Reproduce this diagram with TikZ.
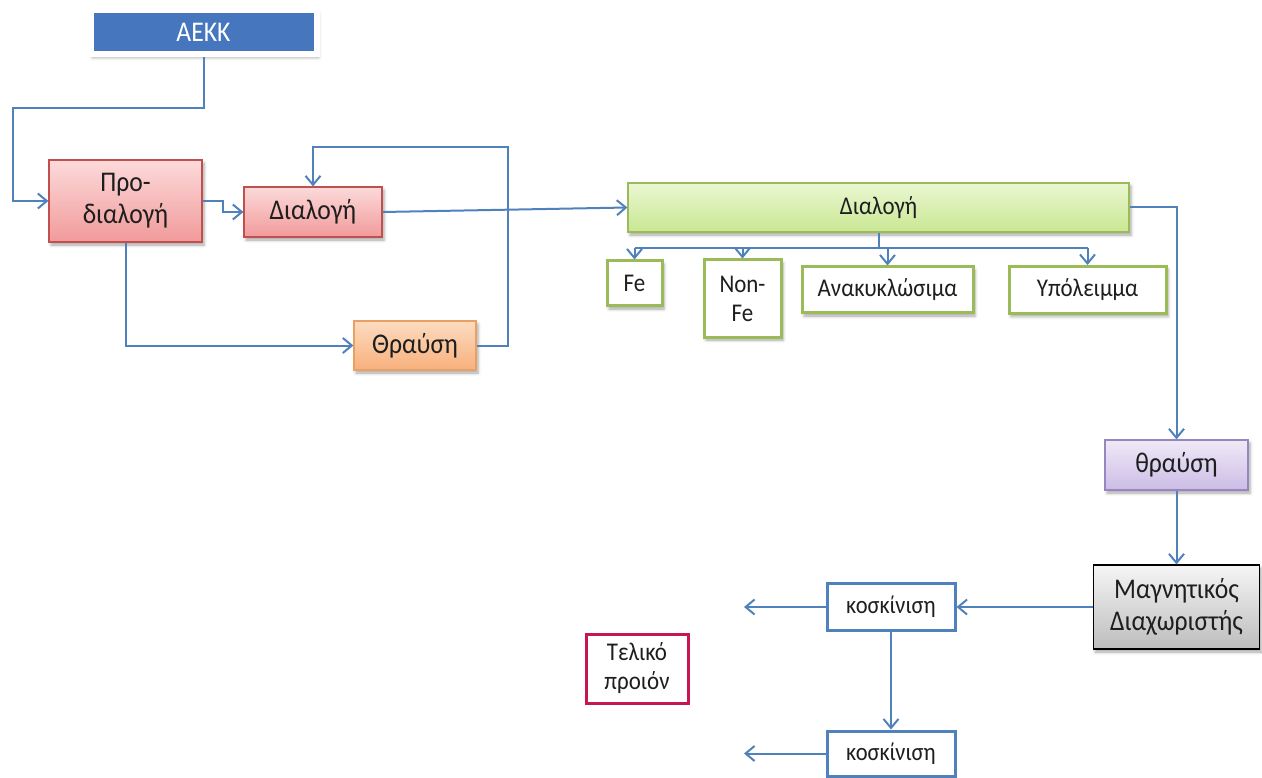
\documentclass[tikz,border=0pt]{standalone}
\usepackage{fontspec}
\setmainfont{Carlito}[FakeStretch=0.9]
\usetikzlibrary{arrows.meta,shadows,shadows.blur}

\definecolor{lnblue}{HTML}{4F81BD}
\definecolor{txt}{HTML}{1E1E1E}
\definecolor{aekkblue}{HTML}{4677BE}
\definecolor{pinkline}{HTML}{C0504D}
\definecolor{pinktop}{HTML}{FCDADA}
\definecolor{pinkbot}{HTML}{F19A9A}
\definecolor{orline}{HTML}{E9A062}
\definecolor{ortop}{HTML}{FCDCC0}
\definecolor{orbot}{HTML}{F8B07C}
\definecolor{grline}{HTML}{9BBB59}
\definecolor{grtop}{HTML}{EAF7D2}
\definecolor{grbot}{HTML}{C9E792}
\definecolor{puline}{HTML}{9A86BE}
\definecolor{putop}{HTML}{EFEAF7}
\definecolor{pubot}{HTML}{CCBCE6}
\definecolor{gytop}{HTML}{F5F5F5}
\definecolor{gybot}{HTML}{BDBDBD}
\definecolor{crimson}{HTML}{C8174F}

\newcommand{\fbig}{\fontsize{28.5}{32}\selectfont}
\newcommand{\fmid}{\fontsize{25.5}{29}\selectfont}
\newcommand{\fsml}{\fontsize{25}{28}\selectfont}

\begin{document}
\begin{tikzpicture}[x=1pt,y=-1pt,
  every node/.style={inner sep=0pt, text=txt, align=center},
  softshadow/.style={blur shadow={shadow xshift=2pt, shadow yshift=-3pt,
      shadow blur radius=3pt, shadow opacity=35}},
  headbox/.style={rectangle, fill=aekkblue, draw=white, line width=6pt,
      softshadow, text=white, font=\fbig},
  pinkbox/.style={rectangle, draw=pinkline, line width=1.2pt,
      top color=pinktop, bottom color=pinkbot, softshadow, font=\fbig},
  orbox/.style={rectangle, draw=orline, line width=1.2pt,
      top color=ortop, bottom color=orbot, softshadow, font=\fbig},
  greenbar/.style={rectangle, draw=grline, line width=1.2pt,
      top color=grtop, bottom color=grbot, softshadow, font=\fmid},
  outbox/.style={rectangle, draw=grline, line width=3pt, fill=white,
      softshadow, font=\fmid},
  pubox/.style={rectangle, draw=puline, line width=1.2pt,
      top color=putop, bottom color=pubot, softshadow, font=\fbig},
  gybox/.style={rectangle, draw=black, line width=1.2pt,
      top color=gytop, bottom color=gybot, softshadow, font=\fbig},
  sievebox/.style={rectangle, draw=lnblue, line width=3pt, fill=white, font=\fsml},
  prodbox/.style={rectangle, draw=crimson, line width=3pt, fill=white, font=\fmid},
  conn/.style={draw=lnblue, line width=2pt},
  arr/.style={conn, -{Straight Barb[length=9pt,width=15pt]}}
]
\useasboundingbox (0,0) rectangle (1262,778);

% process boxes
\node[headbox, minimum width=226pt, minimum height=44pt] (aekk) at (203.5,32.5) {ΑΕΚΚ};
\node[pinkbox, minimum width=153pt, minimum height=82pt] (pro) at (125.5,201) {Προ-\\διαλογή};
\node[pinkbox, minimum width=138pt, minimum height=50pt] (dial) at (313,212) {Διαλογή};
\node[orbox, minimum width=122pt, minimum height=49pt] (thr) at (415,345.5) {Θραύση};
\node[greenbar, minimum width=501pt, minimum height=49pt] (gdial) at (878.5,207.5) {Διαλογή};

% sorted fractions
\node[outbox, minimum width=55pt, minimum height=45pt] (fe) at (634.5,283.5) {Fe};
\node[outbox, minimum width=77pt, minimum height=77pt] (nfe) at (742.5,298.5) {Non-\\Fe};
\node[outbox, minimum width=171pt, minimum height=46pt] (rec) at (887.5,290) {Ανακυκλώσιμα};
\node[outbox, minimum width=157pt, minimum height=47pt] (res) at (1087.5,290) {Υπόλειμμα};

% residue line
\node[pubox, minimum width=143pt, minimum height=50pt] (crush) at (1176.5,465) {θραύση};
\node[gybox, minimum width=166pt, minimum height=84pt] (mag) at (1176.5,607) {Μαγνητικός\\Διαχωριστής};
\node[sievebox, minimum width=128pt, minimum height=47pt] (sv1) at (891,607) {κοσκίνιση};
\node[sievebox, minimum width=128pt, minimum height=45pt] (sv2) at (891,753.5) {κοσκίνιση};
\node[prodbox, minimum width=102pt, minimum height=69pt] (prod) at (637,668.5) {Τελικό\\προιόν};

% routing points
\coordinate (feedturn) at (13,108);
\coordinate (loop) at (508,147);
\coordinate (busL) at (634.5,248);
\coordinate (busR) at (1087.5,248);
\coordinate (out1) at (744,607);
\coordinate (out2) at (744,753.5);

% connectors
\draw[arr] (aekk.south) |- (feedturn) |- (pro.west);
\draw[arr] (pro.east) -- ++(20,0) |- (dial.west);
\draw[arr] (pro.south) |- (thr.west);
\draw[arr] (thr.east) -| (loop) -| (dial.north);
\draw[arr] (dial.east) -- (gdial.west);

\draw[conn] (gdial.south) -- (gdial.south |- busL);
\draw[conn] (busL) -- (busR);
\draw[arr] (busL) -- (fe.north);
\draw[arr] (nfe.north |- busL) -- (nfe.north);
\draw[arr] (rec.north |- busL) -- (rec.north);
\draw[arr] (busR) -- (res.north);

\draw[arr] (gdial.east) -| (crush.north);
\draw[arr] (crush.south) -- (mag.north);
\draw[arr] (mag.west) -- (sv1.east);
\draw[arr] (sv1.west) -- (out1);
\draw[arr] (sv1.south) -- (sv2.north);
\draw[arr] (sv2.west) -- (out2);
\end{tikzpicture}
\end{document}
